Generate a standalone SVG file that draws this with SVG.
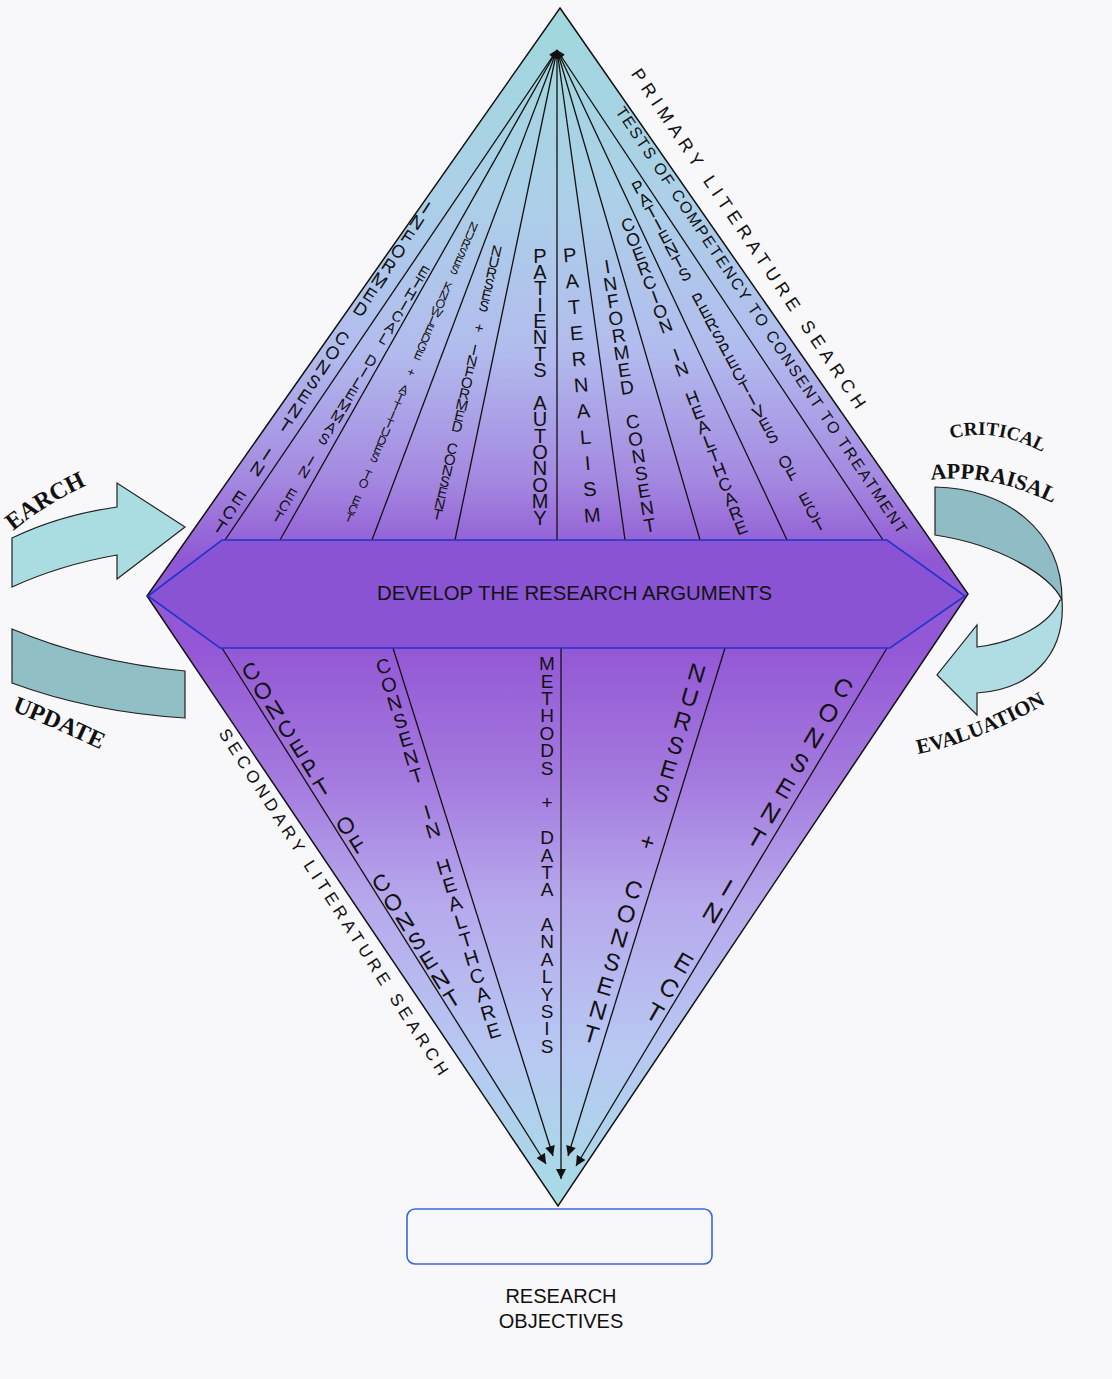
<svg xmlns="http://www.w3.org/2000/svg" width="1112" height="1379" viewBox="0 0 1112 1379">
<defs>
<linearGradient id="dg" gradientUnits="userSpaceOnUse" x1="0" y1="8" x2="0" y2="1206">
<stop offset="0" stop-color="#9fd8dc"/>
<stop offset="0.16" stop-color="#acd0e8"/>
<stop offset="0.285" stop-color="#b2bcee"/>
<stop offset="0.394" stop-color="#a488e0"/>
<stop offset="0.46" stop-color="#9058d4"/>
<stop offset="0.536" stop-color="#9458d6"/>
<stop offset="0.644" stop-color="#a47ade"/>
<stop offset="0.745" stop-color="#b6a8ec"/>
<stop offset="0.87" stop-color="#b8c8f2"/>
<stop offset="1" stop-color="#a6dce4"/>
</linearGradient>
<marker id="ah" viewBox="0 0 10 10" refX="10" refY="5" markerWidth="11" markerHeight="10" markerUnits="userSpaceOnUse" orient="auto">
<path d="M0,0 L10,5 L0,10 z" fill="#111"/>
</marker>
<marker id="as" viewBox="0 0 10 10" refX="10" refY="5" markerWidth="9" markerHeight="8" markerUnits="userSpaceOnUse" orient="auto-start-reverse">
<path d="M0,0 L10,5 L0,10 z" fill="#111"/>
</marker>
<path id="pEarch" d="M13,531 Q55,497 106,477"/>
<path id="pUpdate" d="M12,711 Q55,728 106,752"/>
<path id="pCrit" d="M951,439 Q995,426 1046,454"/>
<path id="pAppr" d="M931,480 Q995,472 1062,508"/>
<path id="pEval" d="M918,754 Q985,740 1052,700"/>
<style>
.ln{stroke:#111;stroke-width:1.3;fill:none}
.stk{font-family:"Liberation Sans",Arial,sans-serif;writing-mode:vertical-rl;text-orientation:upright;text-anchor:middle;fill:#111}
.rot{font-family:"Liberation Sans",Arial,sans-serif;text-anchor:middle;dominant-baseline:central;fill:#111}
.sf{font-family:"Liberation Serif","Times New Roman",serif;font-weight:bold;fill:#111}
.lbl{font-family:"Liberation Sans",Arial,sans-serif;fill:#111}
</style>
</defs>
<rect x="0" y="0" width="1112" height="1379" fill="#f8f8fa"/>

<g id="diamond">
<polygon points="560,8 968,594 558,1206 147,596" fill="url(#dg)" stroke="#111" stroke-width="1.5"/>
</g>

<g id="connectors">
<line class="ln" x1="557" y1="50" x2="225" y2="540" marker-start="url(#as)"/>
<line class="ln" x1="557" y1="50" x2="280" y2="540" marker-start="url(#as)"/>
<line class="ln" x1="557" y1="50" x2="372" y2="540" marker-start="url(#as)"/>
<line class="ln" x1="557" y1="50" x2="455" y2="540" marker-start="url(#as)"/>
<line class="ln" x1="557" y1="50" x2="557" y2="540" marker-start="url(#as)"/>
<line class="ln" x1="557" y1="50" x2="625" y2="540" marker-start="url(#as)"/>
<line class="ln" x1="557" y1="50" x2="700" y2="540" marker-start="url(#as)"/>
<line class="ln" x1="557" y1="50" x2="787" y2="540" marker-start="url(#as)"/>
<line class="ln" x1="557" y1="50" x2="883" y2="540" marker-start="url(#as)"/>
<line class="ln" x1="222" y1="648" x2="546" y2="1164" marker-end="url(#ah)"/>
<line class="ln" x1="393" y1="648" x2="553" y2="1156" marker-end="url(#ah)"/>
<line class="ln" x1="561" y1="648" x2="561" y2="1179" marker-end="url(#ah)"/>
<line class="ln" x1="725" y1="648" x2="568" y2="1156" marker-end="url(#ah)"/>
<line class="ln" x1="887" y1="648" x2="576" y2="1166" marker-end="url(#ah)"/>
</g>

<g id="band">
<polygon points="148,596 222,540 887,540 965,596 890,648 220,648" fill="#8a53d3" stroke="#2233cc" stroke-width="1.6"/>
<text class="lbl" x="574.5" y="600" font-size="20" text-anchor="middle" textLength="395" lengthAdjust="spacingAndGlyphs">DEVELOP THE RESEARCH ARGUMENTS</text>
</g>

<g id="topics-top">
<text class="stk" x="323" y="367.5" font-size="18" textLength="400" lengthAdjust="spacing" transform="rotate(32.9 323 367.5)">INFORMED CONSENT IN ECT</text>
<text class="stk" x="351" y="394" font-size="15" textLength="302" lengthAdjust="spacing" transform="rotate(30.8 351 394)">ETHICAL DILEMMAS IN ECT</text>
<text class="stk" x="411" y="372.5" font-size="12.5" textLength="330" lengthAdjust="spacing" transform="rotate(23.1 411 372.5)">NURSES KNOWLEDGE + ATTITUDES TO ECT</text>
<text class="stk" x="467" y="382.5" font-size="15" textLength="287" lengthAdjust="spacing" transform="rotate(12.6 467 382.5)">NURSES + INFORMED CONSENT</text>
<text class="stk" x="540" y="386.5" font-size="20" textLength="284" lengthAdjust="spacing">PATIENTS AUTONOMY</text>
<text class="stk" x="581" y="385" font-size="20" textLength="283" lengthAdjust="spacing" transform="rotate(-4.9 581 385)">PATERNALISM</text>
<text class="stk" x="628.5" y="396" font-size="19" textLength="283" lengthAdjust="spacing" transform="rotate(-9.3 628.5 396)">INFORMED CONSENT</text>
<text class="stk" x="684.5" y="376.5" font-size="18" textLength="343" lengthAdjust="spacing" transform="rotate(-20.5 684.5 376.5)">COERCION IN HEALTHCARE</text>
<text class="stk" x="728.5" y="356" font-size="17" textLength="402" lengthAdjust="spacing" transform="rotate(-28.15 728.5 356)">PATIENTS PERSPECTIVES OF ECT</text>
<text class="rot" x="761.5" y="320" font-size="16" textLength="510" lengthAdjust="spacing" transform="rotate(56.2 761.5 320)">TESTS OF COMPETENCY TO CONSENT TO TREATMENT</text>
<text class="rot" x="748.5" y="238.5" font-size="18" textLength="405" lengthAdjust="spacing" transform="rotate(56.1 748.5 238.5)">PRIMARY LITERATURE SEARCH</text>
</g>

<g id="topics-bottom">
<text class="rot" x="333.5" y="902" font-size="17" textLength="408" lengthAdjust="spacing" transform="rotate(57.2 333.5 902)">SECONDARY LITERATURE SEARCH</text>
<text class="stk" x="351.5" y="835" font-size="23" textLength="410" lengthAdjust="spacing" transform="rotate(-31.6 351.5 835)">CONCEPT OF CONSENT</text>
<text class="stk" x="438.5" y="848.5" font-size="20" textLength="402.6" lengthAdjust="spacing" transform="rotate(-16.8 438.5 848.5)">CONSENT IN HEALTHCARE</text>
<text class="stk" x="547" y="855" font-size="19" textLength="403.5" lengthAdjust="spacing">METHODS + DATA ANALYSIS</text>
<text class="stk" x="644" y="853.5" font-size="24" textLength="403.4" lengthAdjust="spacing" transform="rotate(16.3 644 853.5)">NURSES + CONSENT</text>
<text class="stk" x="749" y="850" font-size="25" textLength="403.4" lengthAdjust="spacing" transform="rotate(30.1 749 850)">CONSENT IN ECT</text>
</g>

<g id="search-arrow">
<path d="M12,538 Q60,515 117,507 L117,483 L185,527 L117,579 L117,555 Q60,565 12,587 Z" fill="#aadde2" stroke="#222" stroke-width="1.2"/>
<text class="sf" font-size="24"><textPath href="#pEarch">EARCH</textPath></text>
</g>

<g id="update-arrow">
<path d="M12,629 Q90,662 185,671 L185,718 Q90,712 12,683 Z" fill="#90bfc6" stroke="#222" stroke-width="1.2"/>
<text class="sf" font-size="24"><textPath href="#pUpdate">UPDATE</textPath></text>
</g>

<g id="appraisal-arrow">
<path d="M935,487 C1005,488 1062,530 1062,600 C1050,575 1000,545 935,535 Z" fill="#8fbcc5" stroke="#222" stroke-width="1.2"/>
<path d="M1062,600 C1066,655 1030,690 977,693 L977,715 L937,675 L977,625 L977,647 C1015,642 1050,625 1060,600 Z" fill="#b0dde3" stroke="#222" stroke-width="1.2"/>
<text class="sf" font-size="19"><textPath href="#pCrit">CRITICAL</textPath></text>
<text class="sf" font-size="22"><textPath href="#pAppr">APPRAISAL</textPath></text>
<text class="sf" font-size="21"><textPath href="#pEval">EVALUATION</textPath></text>
</g>

<g id="objectives">
<rect x="407" y="1209" width="305" height="55" rx="8" ry="8" fill="none" stroke="#3a68d8" stroke-width="1.6"/>
<text class="lbl" x="561" y="1303" font-size="20" text-anchor="middle">RESEARCH</text>
<text class="lbl" x="561" y="1328" font-size="20" text-anchor="middle">OBJECTIVES</text>
</g>
</svg>
